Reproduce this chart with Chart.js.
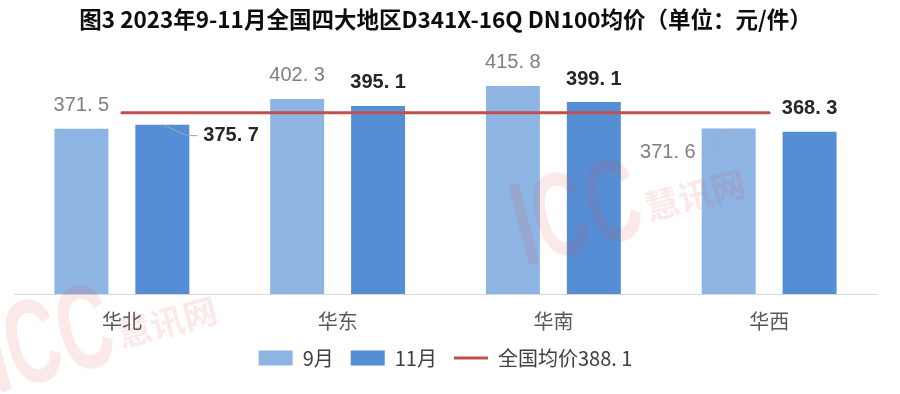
<!DOCTYPE html>
<html><head><meta charset="utf-8">
<script src="https://cdn.jsdelivr.net/npm/chart.js@4.4.0/dist/chart.umd.min.js"></script>
<style>html,body{margin:0;padding:0;background:#fff}#wrap{width:900px;height:394px}</style>
</head><body><div id="wrap"><canvas id="c" width="900" height="394"></canvas></div>
<script>
const titleText = '图3 2023年9-11月全国四大地区D341X-16Q DN100均价（单位：元/件）';
const categories = ['华北', '华东', '华南', '华西'];
const seriesNames = ['9月', '11月'];
const sepValues = [371.5, 402.3, 415.8, 371.6];
const novValues = [375.7, 395.1, 399.1, 368.3];
const nationalAvg = 388.1;
const avgName = '全国均价';
const yMin = 200;
const yMax = 450;
const watermarkText = ['ICC', '慧讯网'];

const fmt = v => v.toFixed(1).replace('.', '. ');

const labelPlugin = {
  id: 'vlabels',
  afterDraw(chart) {
    const ctx = chart.ctx;
    const styles = [
      { color: '#7F7F7F', font: '20px "Liberation Sans", Arial, sans-serif' },
      { color: '#262626', font: 'bold 20px "Liberation Sans", Arial, sans-serif' }
    ];
    const special = {
      '1-0': { side: 'right', dx1: 25, dy: 11, dx2: 35, tx: 41 },
      '0-3': { side: 'left', dx1: -21, dy: 24, dx2: -27, tx: -33 }
    };
    [0, 1].forEach(di => {
      const meta = chart.getDatasetMeta(di);
      const vals = chart.data.datasets[di].data;
      meta.data.forEach((el, i) => {
        const s = styles[di];
        ctx.save();
        ctx.font = s.font;
        ctx.fillStyle = s.color;
        ctx.textBaseline = 'middle';
        const sp = special[di + '-' + i];
        const txt = fmt(vals[i]);
        if (sp) {
          ctx.strokeStyle = '#A6A6A6';
          ctx.lineWidth = 1;
          ctx.beginPath();
          ctx.moveTo(el.x, el.y);
          ctx.lineTo(el.x + sp.dx1, el.y + sp.dy);
          ctx.lineTo(el.x + sp.dx2, el.y + sp.dy);
          ctx.stroke();
          ctx.textAlign = sp.side === 'right' ? 'left' : 'right';
          ctx.fillText(txt, el.x + sp.tx, el.y + sp.dy);
        } else {
          ctx.textAlign = 'center';
          ctx.fillText(txt, el.x, el.y - 23);
        }
        ctx.restore();
      });
    });
    const drawMark = (x, y) => {
      ctx.save();
      ctx.globalAlpha = 0.12;
      ctx.fillStyle = '#E04848';
      ctx.translate(x, y);
      ctx.rotate(-0.26);
      ctx.save();
      ctx.scale(0.62, 1);
      ctx.font = 'bold 120px "Liberation Sans", Arial, sans-serif';
      ctx.textAlign = 'center';
      ctx.textBaseline = 'middle';
      ctx.fillText(watermarkText[0], 0, 0);
      ctx.restore();
      ctx.font = 'bold 34px "Noto Sans CJK SC", sans-serif';
      ctx.textAlign = 'left';
      ctx.textBaseline = 'middle';
      ctx.fillText(watermarkText[1], 68, 8);
      ctx.restore();
    };
    drawMark(578, 218);
    drawMark(50, 345);
  }
};

const ctx = document.getElementById('c').getContext('2d');
new Chart(ctx, {
  type: 'bar',
  data: {
    labels: categories,
    datasets: [
      { type: 'bar', label: seriesNames[0], data: sepValues, backgroundColor: '#8EB4E3', borderWidth: 0, order: 1,
        categoryPercentage: 0.75, barPercentage: 0.667 },
      { type: 'bar', label: seriesNames[1], data: novValues, backgroundColor: '#558ED5', borderWidth: 0, order: 1,
        categoryPercentage: 0.75, barPercentage: 0.667 },
      { type: 'line', label: avgName + fmt(nationalAvg), data: categories.map(() => nationalAvg),
        borderColor: '#C0504D', backgroundColor: '#C0504D', borderWidth: 3, pointRadius: 0, borderCapStyle: 'round',
        order: 0, fill: false }
    ]
  },
  options: {
    responsive: false,
    animation: false,
    devicePixelRatio: 1,
    layout: { padding: { left: 14, right: 23, top: 0, bottom: 16 } },
    scales: {
      x: {
        grid: { display: false },
        border: { display: true, color: '#D9D9D9', width: 1 },
        ticks: { font: { family: '"Noto Sans CJK SC", sans-serif', size: 20 }, color: '#595959', padding: 7 },
        afterFit(scale) { scale.height = 37; }
      },
      y: { display: false, min: yMin, max: yMax }
    },
    plugins: {
      title: {
        display: true, text: titleText, color: '#0D0D0D',
        font: { family: '"Noto Sans CJK SC", sans-serif', size: 22.5, weight: 'bold' },
        padding: { top: 6, bottom: 20 }
      },
      legend: {
        position: 'bottom',
        labels: {
          usePointStyle: true, pointStyleWidth: 34, boxHeight: 15, padding: 17,
          color: '#404040', font: { family: '"Noto Sans CJK SC", sans-serif', size: 20 },
          generateLabels(chart) {
            const items = Chart.defaults.plugins.legend.labels.generateLabels(chart);
            items.sort((a, b) => a.datasetIndex - b.datasetIndex);
            items.forEach(it => {
              const ds = chart.data.datasets[it.datasetIndex];
              it.pointStyle = ds.type === 'line' ? 'line' : 'rect';
              if (ds.type !== 'line') it.lineWidth = 0;
            });
            return items;
          }
        }
      },
      tooltip: { enabled: false }
    }
  },
  plugins: [labelPlugin]
});
</script></body></html>
